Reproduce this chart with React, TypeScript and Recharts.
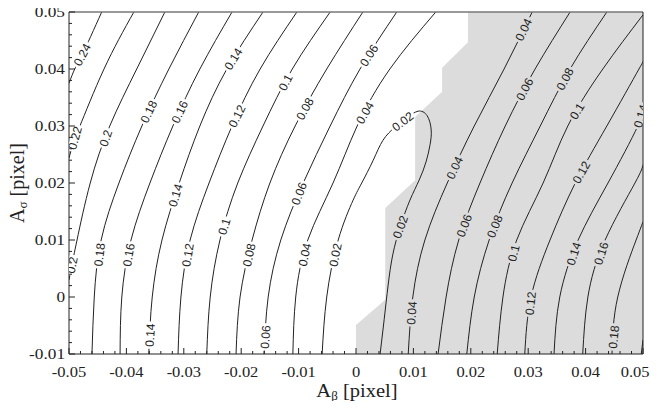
import React from 'react';
import { ComposedChart, Line, Area, Scatter, XAxis, YAxis, ReferenceLine } from 'recharts';

type P = { x: number; y: number };
const pts = (a: number[][]): P[] => a.map(([x, y]) => ({ x, y }));

// ---------- axes ----------
const X_MIN = -0.05, X_MAX = 0.05, Y_MIN = -0.01, Y_MAX = 0.05;
const xTickLabels = ['-0.05', '-0.04', '-0.03', '-0.02', '-0.01', '0', '0.01', '0.02', '0.03', '0.04', '0.05'];
const yTickLabels = ['-0.01', '0', '0.01', '0.02', '0.03', '0.04', '0.05'];
const MINOR_STEP = 0.002;

// ---------- shaded region (upper-left boundary of the gray zone) ----------
const grayBoundary = pts([
  [0, -0.01], [0, -0.0049], [0.0051, -0.0005], [0.0051, 0.0156], [0.0103, 0.0205],
  [0.0103, 0.0316], [0.015, 0.036], [0.015, 0.0402], [0.0195, 0.0447], [0.0195, 0.05], [0.05, 0.05],
]);

// ---------- contour lines ----------
const c024L = pts([[-0.05, 0.0375], [-0.049, 0.04], [-0.0477, 0.0425], [-0.0443, 0.05]]);
const c022L = pts([[-0.05, 0.0244], [-0.049, 0.0279], [-0.0481, 0.03], [-0.0439, 0.04], [-0.0387, 0.05]]);
const c020L = pts([[-0.05, 0.003], [-0.0495, 0.0056], [-0.0486, 0.01], [-0.0463, 0.02], [-0.0429, 0.03], [-0.0382, 0.04], [-0.0333, 0.05]]);
const c018L = pts([[-0.046, -0.01], [-0.0456, 0], [-0.0444, 0.01], [-0.0413, 0.02], [-0.0373, 0.03], [-0.0326, 0.04], [-0.0274, 0.05]]);
const c016L = pts([[-0.0411, -0.01], [-0.0408, 0], [-0.0392, 0.01], [-0.0359, 0.02], [-0.0319, 0.03], [-0.0272, 0.04], [-0.0216, 0.05]]);
const c014L = pts([[-0.0361, -0.01], [-0.0355, 0], [-0.0338, 0.01], [-0.0308, 0.02], [-0.0272, 0.03], [-0.0225, 0.04], [-0.0162, 0.05]]);
const c012L = pts([[-0.031, -0.01], [-0.0305, 0], [-0.0289, 0.01], [-0.0256, 0.02], [-0.0216, 0.03], [-0.0167, 0.04], [-0.0103, 0.05]]);
const c010L = pts([[-0.026, -0.01], [-0.0254, 0], [-0.0237, 0.01], [-0.0206, 0.02], [-0.0162, 0.03], [-0.0111, 0.04], [-0.0045, 0.05]]);
const c008L = pts([[-0.0209, -0.01], [-0.0202, 0], [-0.0181, 0.01], [-0.015, 0.02], [-0.0106, 0.03], [-0.0051, 0.04], [0.0012, 0.05]]);
const c006L = pts([[-0.016, -0.01], [-0.0153, 0], [-0.0131, 0.01], [-0.0092, 0.02], [-0.0045, 0.03], [0.0007, 0.04], [0.0071, 0.05]]);
const c004L = pts([[-0.011, -0.01], [-0.0105, 0], [-0.0084, 0.01], [-0.004, 0.02], [0.0002, 0.03], [0.0059, 0.04], [0.0139, 0.05]]);
const c002 = pts([
  [-0.0059, -0.01], [-0.0051, 0], [-0.0031, 0.01], [-0.0005, 0.017], [0.001, 0.02], [0.003, 0.024],
  [0.0047, 0.0275], [0.0068, 0.0298], [0.0089, 0.0314], [0.0108, 0.0326], [0.0124, 0.0318],
  [0.0131, 0.0293], [0.0129, 0.0267], [0.0122, 0.0237], [0.011, 0.0205], [0.0094, 0.017],
  [0.0077, 0.0123], [0.0064, 0.0074], [0.0056, 0.0021], [0.0049, -0.004], [0.0042, -0.01],
]);
const c004R = pts([[0.0091, -0.01], [0.0099, 0], [0.012, 0.01], [0.0159, 0.02], [0.0206, 0.03], [0.0258, 0.04], [0.0307, 0.05]]);
const c006R = pts([[0.0143, -0.01], [0.0157, 0], [0.0179, 0.01], [0.0216, 0.02], [0.026, 0.03], [0.0312, 0.04], [0.0373, 0.05]]);
const c008R = pts([[0.0193, -0.01], [0.0206, 0], [0.0232, 0.01], [0.0272, 0.02], [0.0321, 0.03], [0.0373, 0.04], [0.0437, 0.05]]);
const c010R = pts([[0.0246, -0.01], [0.0256, 0], [0.028, 0.01], [0.0326, 0.02], [0.0369, 0.03], [0.043, 0.04], [0.05, 0.0495]]);
const c012R = pts([[0.0294, -0.01], [0.0305, 0], [0.0338, 0.01], [0.0382, 0.02], [0.0437, 0.03], [0.0493, 0.04], [0.05, 0.0412]]);
const c014R = pts([[0.0345, -0.01], [0.0355, 0], [0.0387, 0.01], [0.0439, 0.02], [0.0491, 0.03], [0.05, 0.0332]]);
const c016R = pts([[0.0395, -0.01], [0.0404, 0], [0.0434, 0.01], [0.0486, 0.02], [0.05, 0.0232]]);
const c018R = pts([[0.0446, -0.01], [0.0456, 0], [0.0488, 0.01], [0.05, 0.0132]]);
const c020R = pts([[0.0497, -0.01], [0.05, -0.0075]]);

const contours: { level: string; data: P[] }[] = [
  { level: '0.24', data: c024L }, { level: '0.22', data: c022L }, { level: '0.2', data: c020L },
  { level: '0.18', data: c018L }, { level: '0.16', data: c016L }, { level: '0.14', data: c014L },
  { level: '0.12', data: c012L }, { level: '0.1', data: c010L }, { level: '0.08', data: c008L },
  { level: '0.06', data: c006L }, { level: '0.04', data: c004L }, { level: '0.02', data: c002 },
  { level: '0.04', data: c004R }, { level: '0.06', data: c006R }, { level: '0.08', data: c008R },
  { level: '0.1', data: c010R }, { level: '0.12', data: c012R }, { level: '0.14', data: c014R },
  { level: '0.16', data: c016R }, { level: '0.18', data: c018R }, { level: '0.2', data: c020R },
];

// ---------- inline contour labels ----------
const contourLabels: { t: string; x: number; y: number }[] = [
  { t: '0.24', x: -0.0477, y: 0.0425 },
  { t: '0.22', x: -0.049, y: 0.0279 },
  { t: '0.2', x: -0.0437, y: 0.0279 }, { t: '0.2', x: -0.0495, y: 0.0056 },
  { t: '0.18', x: -0.0361, y: 0.0325 }, { t: '0.18', x: -0.0446, y: 0.0074 },
  { t: '0.16', x: -0.0308, y: 0.0325 }, { t: '0.16', x: -0.0397, y: 0.0074 },
  { t: '0.14', x: -0.0359, y: -0.0067 }, { t: '0.14', x: -0.0317, y: 0.0179 }, { t: '0.14', x: -0.0211, y: 0.0416 },
  { t: '0.12', x: -0.0296, y: 0.0074 }, { t: '0.12', x: -0.0211, y: 0.0319 },
  { t: '0.1', x: -0.0228, y: 0.0123 }, { t: '0.1', x: -0.0124, y: 0.0377 },
  { t: '0.08', x: -0.0188, y: 0.0074 }, { t: '0.08', x: -0.0094, y: 0.0333 },
  { t: '0.06', x: -0.0159, y: -0.007 }, { t: '0.06', x: -0.0106, y: 0.0184 }, { t: '0.06', x: 0.0021, y: 0.0425 },
  { t: '0.04', x: -0.0089, y: 0.0074 }, { t: '0.04', x: 0.0016, y: 0.0323 },
  { t: '0.02', x: -0.0037, y: 0.0074 }, { t: '0.02', x: 0.0082, y: 0.0307 }, { t: '0.02', x: 0.0077, y: 0.0123 },
  { t: '0.04', x: 0.0098, y: -0.0028 }, { t: '0.04', x: 0.0169, y: 0.0228 }, { t: '0.04', x: 0.0286, y: 0.0472 },
  { t: '0.06', x: 0.0186, y: 0.0126 }, { t: '0.06', x: 0.0289, y: 0.0367 },
  { t: '0.08', x: 0.0237, y: 0.0126 }, { t: '0.08', x: 0.0361, y: 0.0384 },
  { t: '0.1', x: 0.0274, y: 0.0077 }, { t: '0.1', x: 0.0382, y: 0.0328 },
  { t: '0.12', x: 0.0303, y: -0.0011 }, { t: '0.12', x: 0.0385, y: 0.0223 },
  { t: '0.14', x: 0.0376, y: 0.0077 }, { t: '0.14', x: 0.049, y: 0.0319 },
  { t: '0.16', x: 0.0425, y: 0.0077 },
  { t: '0.18', x: 0.0446, y: -0.007 },
];

// ---------- layout / style ----------
const CHART_W = 642, CHART_H = 393;
const MARGIN = { top: 4, right: 7, bottom: 0, left: 0 };
const Y_AXIS_W = 61, X_AXIS_H = 47;
const PLOT_W = CHART_W - MARGIN.left - MARGIN.right - Y_AXIS_W;
const PLOT_H = CHART_H - MARGIN.top - MARGIN.bottom - X_AXIS_H;
const SX = PLOT_W / (X_MAX - X_MIN);
const SY = PLOT_H / (Y_MAX - Y_MIN);
const LINE_COLOR = '#222';
const GRAY = '#dcdcdc';
const SERIF = "'Liberation Serif', 'Times New Roman', serif";
const SANS = "'Liberation Sans', Arial, sans-serif";
const LABEL_FS = 12;

const r3 = (v: number) => Math.round(v * 1000) / 1000;
const xTicks: number[] = [];
for (let i = 0; i <= Math.round((X_MAX - X_MIN) / MINOR_STEP); i++) xTicks.push(r3(X_MIN + i * MINOR_STEP));
const yTicks: number[] = [];
for (let i = 0; i <= Math.round((Y_MAX - Y_MIN) / MINOR_STEP); i++) yTicks.push(r3(Y_MIN + i * MINOR_STEP));
const findLabel = (labels: string[], v: number) => labels.find((l) => Math.abs(parseFloat(l) - v) < 1e-9) ?? '';

function grayTop(x: number): number {
  if (x < grayBoundary[0].x) return -Infinity;
  for (let i = 0; i < grayBoundary.length - 1; i++) {
    const a = grayBoundary[i], b = grayBoundary[i + 1];
    if (b.x > a.x && x >= a.x && x <= b.x) return a.y + ((b.y - a.y) * (x - a.x)) / (b.x - a.x);
  }
  return Y_MAX;
}

const labelData = contourLabels.map((l) => {
  let best = { d: Infinity, x: l.x, y: l.y, ang: -90 };
  const px = l.x * SX, py = -l.y * SY;
  for (const c of contours) {
    if (c.level !== l.t) continue;
    for (let i = 0; i < c.data.length - 1; i++) {
      const a = c.data[i], b = c.data[i + 1];
      const ax = a.x * SX, ay = -a.y * SY, bx = b.x * SX, by = -b.y * SY;
      const dx = bx - ax, dy = by - ay;
      const len2 = dx * dx + dy * dy;
      let t = len2 > 0 ? ((px - ax) * dx + (py - ay) * dy) / len2 : 0;
      t = Math.max(0, Math.min(1, t));
      const qx = ax + t * dx, qy = ay + t * dy;
      const d = Math.hypot(px - qx, py - qy);
      if (d < best.d) {
        let ang = (Math.atan2(dy, dx) * 180) / Math.PI;
        if (ang >= 90) ang -= 180;
        if (ang < -90) ang += 180;
        best = { d, x: qx / SX, y: -qy / SY, ang };
      }
    }
  }
  const bg = best.y <= grayTop(best.x) ? GRAY : '#ffffff';
  return { x: best.x, y: best.y, t: l.t, ang: best.ang, bg };
});

const textW = (s: string) => s.split('').reduce((w, ch) => w + (ch === '.' ? 0.278 : 0.556), 0) * LABEL_FS;

const LabelShape = (props: any) => {
  const { cx, cy, payload } = props;
  if (cx == null || cy == null || !payload) return null;
  const w = textW(payload.t);
  return (
    <g transform={`translate(${cx},${cy}) rotate(${payload.ang})`}>
      <rect x={-w / 2 - 2} y={-4} width={w + 4} height={8} fill={payload.bg} />
      <text x={0} y={0} dy="0.36em" textAnchor="middle" fontFamily={SANS} fontSize={LABEL_FS} fill={LINE_COLOR}>
        {payload.t}
      </text>
    </g>
  );
};

const isMajor = (v: number) => Math.abs(v * 100 - Math.round(v * 100)) < 1e-6;

const XTick = (props: any) => {
  const { x, y, payload } = props;
  const v = payload.value as number;
  const major = isMajor(v);
  const lbl = major ? findLabel(xTickLabels, v) : '';
  const isLast = Math.abs(v - X_MAX) < 1e-9;
  return (
    <g>
      <line x1={x} x2={x} y1={y} y2={y - (major ? 6 : 3)} stroke={LINE_COLOR} />
      {lbl && (
        <text
          transform={`translate(${isLast ? x + 6.5 : x},${y + 23}) scale(1.1,1)`}
          textAnchor={isLast ? 'end' : 'middle'}
          fontFamily={SERIF}
          fontSize={15}
          fill={LINE_COLOR}
        >
          {lbl}
        </text>
      )}
    </g>
  );
};

const YTick = (props: any) => {
  const { x, y, payload } = props;
  const v = payload.value as number;
  const major = isMajor(v);
  const lbl = major ? findLabel(yTickLabels, v) : '';
  return (
    <g>
      <line x1={x} x2={x + (major ? 6 : 3)} y1={y} y2={y} stroke={LINE_COLOR} />
      {lbl && (
        <text transform={`translate(${x - 4},${y + 5}) scale(1.15,1)`} textAnchor="end" fontFamily={SERIF} fontSize={15} fill={LINE_COLOR}>
          {lbl}
        </text>
      )}
    </g>
  );
};

export default function App() {
  return (
    <div style={{ position: 'relative', width: CHART_W, height: CHART_H }}>
      <style>{`.recharts-surface{overflow:visible}`}</style>
      <ComposedChart width={CHART_W} height={CHART_H} margin={MARGIN} style={{ overflow: 'visible' }}>
        <XAxis
          type="number"
          dataKey="x"
          domain={[X_MIN, X_MAX]}
          ticks={xTicks}
          interval={0}
          allowDataOverflow
          tickSize={0}
          tickMargin={0}
          tickLine={false}
          height={X_AXIS_H}
          axisLine={{ stroke: LINE_COLOR }}
          tick={(p: any) => <XTick {...p} />}
        />
        <YAxis
          type="number"
          dataKey="y"
          domain={[Y_MIN, Y_MAX]}
          ticks={yTicks}
          interval={0}
          allowDataOverflow
          tickSize={0}
          tickMargin={0}
          tickLine={false}
          width={Y_AXIS_W}
          axisLine={{ stroke: LINE_COLOR }}
          tick={(p: any) => <YTick {...p} />}
        />
        <Area
          data={grayBoundary}
          dataKey="y"
          type="linear"
          baseValue="dataMin"
          fill={GRAY}
          fillOpacity={1}
          stroke="none"
          isAnimationActive={false}
        />
        {contours.map((c, i) => (
          <Line
            key={i}
            data={c.data}
            dataKey="y"
            type="natural"
            stroke={LINE_COLOR}
            strokeWidth={1}
            dot={false}
            activeDot={false}
            isAnimationActive={false}
          />
        ))}
        <ReferenceLine y={Y_MAX} stroke="#777" strokeWidth={1.5} />
        <ReferenceLine x={X_MAX} stroke={LINE_COLOR} strokeWidth={1} />
        <Scatter data={labelData} dataKey="y" shape={LabelShape} isAnimationActive={false} />
      </ComposedChart>
      <div
        style={{
          position: 'absolute', left: 249, width: 200, top: 373, textAlign: 'center',
          fontFamily: SERIF, fontSize: 19, lineHeight: '20px', color: LINE_COLOR,
          transform: 'scaleX(1.08)', whiteSpace: 'nowrap',
        }}
      >
        A<sub style={{ fontSize: 12, verticalAlign: '-3px' }}>β</sub> [pixel]
      </div>
      <div
        style={{
          position: 'absolute', left: -51, width: 120, top: 165, height: 20, textAlign: 'center',
          fontFamily: SERIF, fontSize: 20, lineHeight: '20px', color: LINE_COLOR,
          transform: 'rotate(-90deg)', whiteSpace: 'nowrap',
        }}
      >
        A<sub style={{ fontSize: 13, verticalAlign: '-3px' }}>σ</sub> [pixel]
      </div>
    </div>
  );
}
